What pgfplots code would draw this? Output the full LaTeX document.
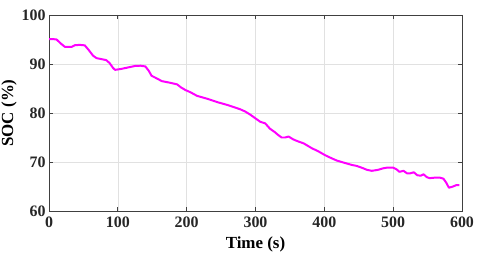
\documentclass[border=0pt]{standalone}
\usepackage{fontspec}
\setmainfont{Liberation Serif}
\usepackage{pgfplots}
\pgfplotsset{compat=1.18}
\definecolor{axgray}{RGB}{64,64,64}
\definecolor{gridgray}{RGB}{225,225,225}
\definecolor{mag}{RGB}{255,0,255}
\begin{document}
\begin{tikzpicture}
\begin{axis}[
  scale only axis,
  width=413bp, height=196bp,
  xmin=0, xmax=600, ymin=60, ymax=100,
  xtick={0,100,...,600}, ytick={60,70,...,100},
  tick align=inside,
  major tick length=4bp,
  grid=major,
  major grid style={gridgray, line width=0.6pt},
  axis line style={axgray, line width=0.9pt},
  tick style={axgray, line width=0.8pt},
  /pgf/number format/assume math mode=true,
  ticklabel style={font=\fontsize{16}{18}\selectfont\bfseries, text=black!85},
  xticklabel style={yshift=-2bp},
  label style={font=\fontsize{17}{19}\selectfont\bfseries, text=black},
  xlabel={Time (s)},
  ylabel={SOC (\%)},
  xlabel style={yshift=-3bp},
  ylabel style={yshift=-2bp},
]
\addplot[mag, line width=2pt, line join=round] coordinates {
(0,95.1) (5,95.1) (11,95.0) (17,94.2) (23,93.5) (28,93.5) (33,93.5) (38,93.85)
(45,93.9) (52,93.8) (58,92.8) (64,91.7) (69,91.2) (76,91.0) (83,90.8) (88,90.2)
(93,89.2) (96,88.8) (105,89.0) (115,89.3) (125,89.6) (133,89.65) (140,89.5)
(145,88.6) (149,87.6) (156,87.1) (164,86.5) (175,86.2) (186,85.85) (192,85.2)
(198,84.7) (206,84.2) (215,83.5) (230,82.9) (245,82.2) (260,81.6) (278,80.75)
(285,80.3) (292,79.7) (300,78.9) (307,78.2) (314,77.9) (321,76.8) (328,76.1)
(333,75.5) (338,75.0) (343,75.0) (348,75.2) (355,74.6) (362,74.2) (370,73.8)
(382,72.8) (391,72.2) (401,71.4) (410,70.8) (418,70.3) (430,69.8) (440,69.4)
(447,69.2) (455,68.8) (462,68.4) (469,68.2) (478,68.4) (485,68.7) (491,68.85)
(500,68.85) (505,68.5) (509,68.0) (515,68.2) (520,67.7) (525,67.7) (530,67.9)
(535,67.3) (540,67.2) (544,67.5) (549,66.9) (553,66.7) (560,66.8) (568,66.8)
(573,66.6) (577,65.8) (581,64.75) (587,65.0) (592,65.3) (596,65.3)
};
\end{axis}
\pgfresetboundingbox
\path[use as bounding box] ([shift={(-49bp,-49bp)}]current axis.south west) rectangle ([shift={(18bp,15bp)}]current axis.north east);
\end{tikzpicture}
\end{document}
